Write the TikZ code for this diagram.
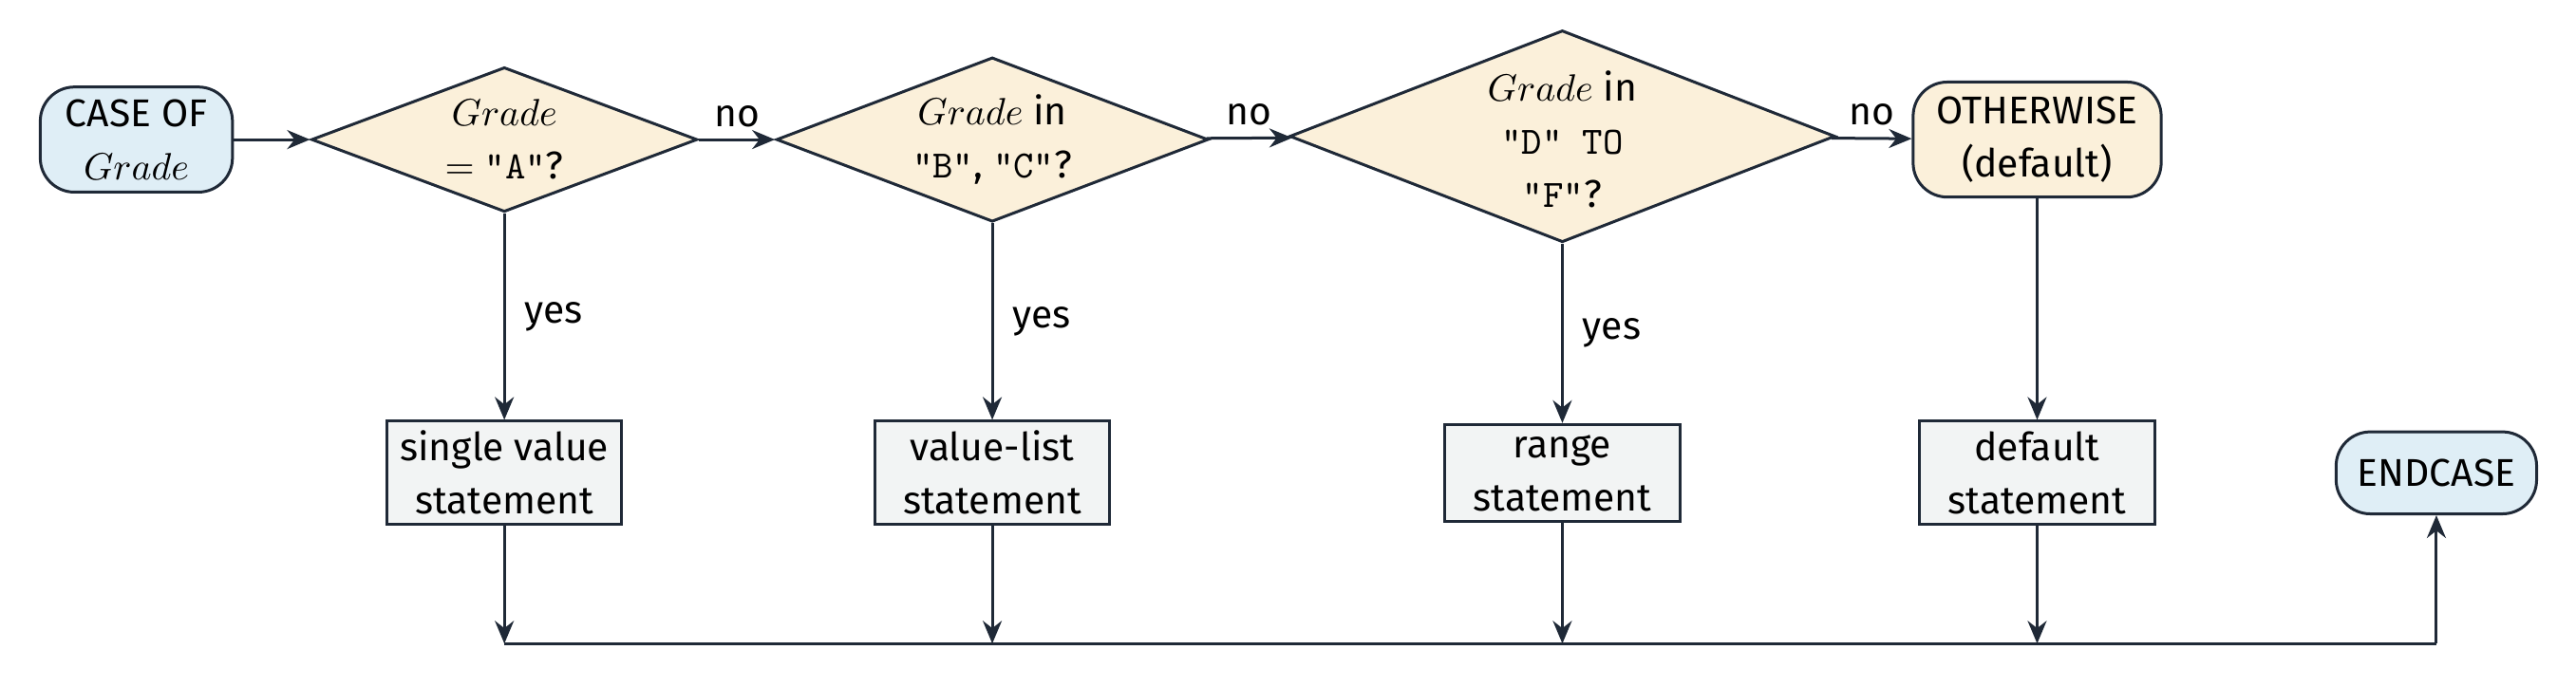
\documentclass[tikz,border=0pt]{standalone}
\usepackage{fontspec}
\setmainfont{Fira Sans}
\usetikzlibrary{shapes.geometric,arrows.meta}
\definecolor{ln}{HTML}{1F2937}
\definecolor{bl}{HTML}{DFEEF6}
\definecolor{or}{HTML}{FBF0DA}
\definecolor{gr}{HTML}{F2F4F4}
\begin{document}
\begin{tikzpicture}[x=0.4325pt,y=-0.4325pt,font=\fontsize{10.2}{14}\selectfont,
  con/.style={draw=ln,line width=0.75pt},
  arr/.style={con,-{Stealth[length=6pt,width=5pt]}},
  term/.style={draw=ln,line width=0.75pt,rounded corners=9pt,fill=bl,align=center,inner sep=0},
  dia/.style={diamond,draw=ln,line width=0.75pt,fill=or,inner sep=0},
  txt/.style={align=center,inner sep=0},
  box/.style={draw=ln,line width=0.75pt,fill=gr,align=center,inner sep=0,minimum width=61.8pt,minimum height=27.2pt}]
\useasboundingbox (0,0) rectangle (1568,418);
\node[term,minimum width=50.6pt,minimum height=27.7pt] (s) at (83,85) {CASE OF\\$Grade$};
\node[dia,minimum width=101.6pt,minimum height=38.1pt] (d1) at (307,85) {};
\node[txt] at (307,85) {$Grade$\\$=$ \texttt{"A"}?};
\node[dia,minimum width=113.7pt,minimum height=43.3pt] (d2) at (604,85) {};
\node[txt] at (604,85) {$Grade$ in\\\texttt{"B"}, \texttt{"C"}?};
\node[dia,minimum width=143.6pt,minimum height=55.8pt] (d3) at (951,83) {};
\node[txt] at (951,85) {$Grade$ in\\\texttt{"D" TO}\\\texttt{"F"}?};
\node[term,fill=or,minimum width=65.3pt,minimum height=30.3pt] (o) at (1240,85) {OTHERWISE\\(default)};
\node[box] (b1) at (307,288) {single value\\statement};
\node[box] (b2) at (604,288) {value-list\\statement};
\node[box,minimum height=25.5pt] (b3) at (951,288) {range\\statement};
\node[box] (b4) at (1240,288) {default\\statement};
\node[term,minimum width=52.8pt,minimum height=21.6pt] (e) at (1483,288) {ENDCASE};
\coordinate (j1) at (307,392); \coordinate (j2) at (604,392);
\coordinate (j3) at (951,392); \coordinate (j4) at (1240,392); \coordinate (j5) at (1483,392);
\draw[arr] (s) -- (d1);
\draw[arr] (d1) -- node[above,inner sep=3pt]{no} (d2);
\draw[arr] (d2) -- node[above,inner sep=3pt]{no} (d3);
\draw[arr] (d3) -- node[above,inner sep=3pt]{no} (o);
\draw[arr] (d1) -- node[right,inner sep=5pt]{yes} (b1);
\draw[arr] (d2) -- node[right,inner sep=5pt]{yes} (b2);
\draw[arr] (d3) -- node[right,inner sep=5pt]{yes} (b3);
\draw[arr] (o) -- (b4);
\draw[arr] (b1) -- (j1); \draw[arr] (b2) -- (j2); \draw[arr] (b3) -- (j3); \draw[arr] (b4) -- (j4);
\draw[con] (j1) -- (j5);
\draw[arr] (j5) -- (e);
\end{tikzpicture}
\end{document}
